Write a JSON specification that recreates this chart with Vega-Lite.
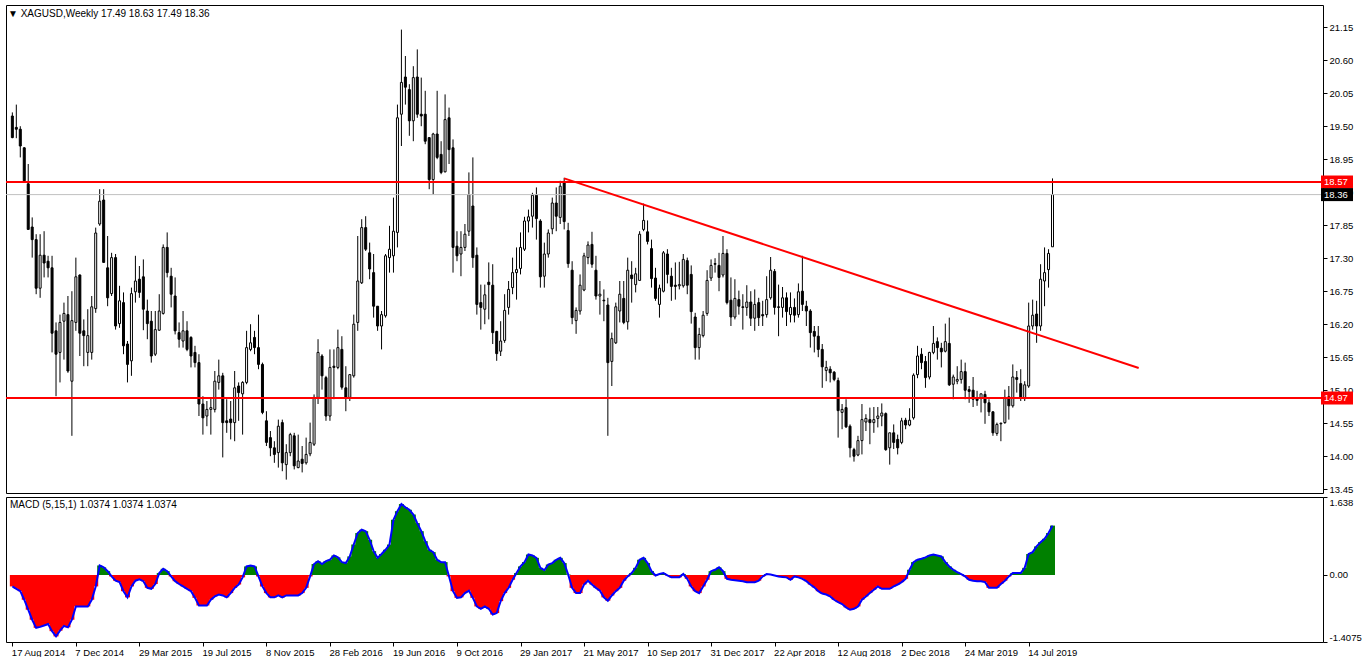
{
"$schema": "https://vega.github.io/schema/vega-lite/v6.json",
"background": "white",
"padding": {"left": 4, "top": 4, "right": 0, "bottom": 0},
"spacing": 4,
"bounds": "flush",
"config": {"view": {"stroke": "#000000", "strokeWidth": 1}, "font": "Liberation Sans", "axis": {"labelOverlap": false}},
"datasets": {
"lines": [{"p": 18.57, "k": "level"}, {"p": 14.97, "k": "level"}, {"p": 18.36, "k": "bid"}],
"trend": [{"d": "2017-04-16", "p": 18.63}, {"d": "2020-01-24", "p": 15.47}],
"bars": [
{"d":"2014-08-17","o":19.67,"h":19.73,"l":19.30,"c":19.31,"m":-0.24},
{"d":"2014-08-24","o":19.48,"h":19.86,"l":19.30,"c":19.45,"m":-0.29},
{"d":"2014-08-31","o":19.45,"h":19.50,"l":18.98,"c":19.17,"m":-0.34},
{"d":"2014-09-07","o":19.14,"h":19.15,"l":18.56,"c":18.59,"m":-0.52},
{"d":"2014-09-14","o":18.54,"h":18.87,"l":17.78,"c":17.78,"m":-0.73},
{"d":"2014-09-21","o":17.82,"h":17.98,"l":17.31,"c":17.61,"m":-0.94},
{"d":"2014-09-28","o":17.61,"h":17.70,"l":16.70,"c":16.80,"m":-1.11},
{"d":"2014-10-05","o":16.80,"h":17.70,"l":16.64,"c":17.35,"m":-1.09},
{"d":"2014-10-12","o":17.35,"h":17.75,"l":16.98,"c":17.22,"m":-1.06},
{"d":"2014-10-19","o":17.25,"h":17.34,"l":16.98,"c":17.14,"m":-1.03},
{"d":"2014-10-26","o":17.14,"h":17.34,"l":15.73,"c":16.05,"m":-1.18},
{"d":"2014-11-02","o":16.09,"h":16.23,"l":15.00,"c":15.70,"m":-1.29},
{"d":"2014-11-09","o":15.73,"h":16.36,"l":15.23,"c":16.23,"m":-1.17},
{"d":"2014-11-16","o":16.25,"h":16.56,"l":15.61,"c":16.38,"m":-1.07},
{"d":"2014-11-23","o":16.36,"h":16.67,"l":15.39,"c":15.42,"m":-1.10},
{"d":"2014-11-30","o":15.25,"h":16.75,"l":14.34,"c":16.26,"m":-0.94},
{"d":"2014-12-07","o":16.23,"h":17.31,"l":16.09,"c":16.99,"m":-0.66},
{"d":"2014-12-14","o":17.02,"h":17.03,"l":15.67,"c":16.05,"m":-0.66},
{"d":"2014-12-21","o":16.09,"h":16.28,"l":15.50,"c":16.01,"m":-0.66},
{"d":"2014-12-28","o":15.73,"h":16.45,"l":15.50,"c":16.01,"m":-0.66},
{"d":"2015-01-04","o":15.73,"h":16.67,"l":15.61,"c":16.49,"m":-0.52},
{"d":"2015-01-11","o":16.46,"h":17.81,"l":16.39,"c":17.72,"m":-0.24},
{"d":"2015-01-18","o":17.87,"h":18.45,"l":17.84,"c":18.25,"m":0.20},
{"d":"2015-01-25","o":18.27,"h":18.45,"l":17.23,"c":17.23,"m":0.16},
{"d":"2015-02-01","o":17.14,"h":17.67,"l":16.50,"c":16.64,"m":0.08},
{"d":"2015-02-08","o":16.71,"h":17.39,"l":16.67,"c":17.31,"m":-0.03},
{"d":"2015-02-15","o":17.31,"h":17.37,"l":16.11,"c":16.17,"m":-0.12},
{"d":"2015-02-22","o":16.21,"h":16.84,"l":16.14,"c":16.59,"m":-0.15},
{"d":"2015-03-01","o":16.56,"h":16.73,"l":15.70,"c":15.84,"m":-0.34},
{"d":"2015-03-08","o":15.87,"h":15.92,"l":15.23,"c":15.53,"m":-0.47},
{"d":"2015-03-15","o":15.59,"h":16.81,"l":15.34,"c":16.71,"m":-0.24},
{"d":"2015-03-22","o":16.74,"h":17.34,"l":16.56,"c":16.92,"m":-0.12},
{"d":"2015-03-29","o":16.95,"h":17.17,"l":16.64,"c":16.73,"m":-0.09},
{"d":"2015-04-05","o":16.99,"h":17.28,"l":16.10,"c":16.45,"m":-0.13},
{"d":"2015-04-12","o":16.42,"h":16.61,"l":15.95,"c":16.21,"m":-0.27},
{"d":"2015-04-19","o":16.25,"h":16.42,"l":15.56,"c":15.67,"m":-0.29},
{"d":"2015-04-26","o":15.70,"h":16.42,"l":15.67,"c":16.11,"m":-0.19},
{"d":"2015-05-03","o":16.10,"h":16.70,"l":16.09,"c":16.42,"m":0.04},
{"d":"2015-05-10","o":16.38,"h":17.53,"l":16.36,"c":17.48,"m":0.13},
{"d":"2015-05-17","o":17.48,"h":17.73,"l":16.98,"c":17.06,"m":0.08},
{"d":"2015-05-24","o":17.00,"h":17.14,"l":16.48,"c":16.70,"m":-0.03},
{"d":"2015-05-31","o":16.67,"h":16.98,"l":16.03,"c":16.09,"m":-0.13},
{"d":"2015-06-07","o":16.06,"h":16.23,"l":15.81,"c":15.95,"m":-0.19},
{"d":"2015-06-14","o":15.92,"h":16.42,"l":15.81,"c":16.09,"m":-0.24},
{"d":"2015-06-21","o":16.09,"h":16.25,"l":15.75,"c":15.78,"m":-0.29},
{"d":"2015-06-28","o":15.98,"h":16.00,"l":15.48,"c":15.67,"m":-0.34},
{"d":"2015-07-05","o":15.73,"h":15.84,"l":15.48,"c":15.56,"m":-0.48},
{"d":"2015-07-12","o":15.56,"h":15.70,"l":14.67,"c":14.87,"m":-0.64},
{"d":"2015-07-19","o":14.87,"h":15.00,"l":14.36,"c":14.64,"m":-0.64},
{"d":"2015-07-26","o":14.67,"h":14.92,"l":14.50,"c":14.78,"m":-0.64},
{"d":"2015-08-02","o":14.78,"h":14.98,"l":14.36,"c":14.81,"m":-0.52},
{"d":"2015-08-09","o":14.78,"h":15.42,"l":14.73,"c":15.25,"m":-0.45},
{"d":"2015-08-16","o":15.23,"h":15.61,"l":15.11,"c":15.34,"m":-0.41},
{"d":"2015-08-23","o":15.34,"h":15.39,"l":13.98,"c":14.56,"m":-0.43},
{"d":"2015-08-30","o":14.59,"h":14.95,"l":14.39,"c":14.56,"m":-0.47},
{"d":"2015-09-06","o":14.62,"h":14.92,"l":14.28,"c":14.56,"m":-0.38},
{"d":"2015-09-13","o":14.56,"h":15.42,"l":14.25,"c":15.14,"m":-0.27},
{"d":"2015-09-20","o":15.17,"h":15.23,"l":14.59,"c":15.06,"m":-0.20},
{"d":"2015-09-27","o":15.04,"h":15.25,"l":14.36,"c":15.23,"m":-0.05},
{"d":"2015-10-04","o":15.23,"h":16.09,"l":15.20,"c":15.81,"m":0.18},
{"d":"2015-10-11","o":15.78,"h":16.20,"l":15.75,"c":15.89,"m":0.20},
{"d":"2015-10-18","o":15.98,"h":16.09,"l":15.70,"c":15.81,"m":0.18},
{"d":"2015-10-25","o":15.81,"h":16.36,"l":15.45,"c":15.53,"m":-0.03},
{"d":"2015-11-01","o":15.53,"h":15.56,"l":14.70,"c":14.73,"m":-0.24},
{"d":"2015-11-08","o":14.59,"h":14.75,"l":14.17,"c":14.23,"m":-0.38},
{"d":"2015-11-15","o":14.31,"h":14.42,"l":14.00,"c":14.14,"m":-0.47},
{"d":"2015-11-22","o":14.14,"h":14.25,"l":13.89,"c":14.03,"m":-0.47},
{"d":"2015-11-29","o":14.06,"h":14.61,"l":13.81,"c":14.50,"m":-0.43},
{"d":"2015-12-06","o":14.56,"h":14.61,"l":13.75,"c":13.89,"m":-0.47},
{"d":"2015-12-13","o":13.86,"h":14.20,"l":13.61,"c":14.06,"m":-0.43},
{"d":"2015-12-20","o":14.06,"h":14.39,"l":14.00,"c":14.36,"m":-0.43},
{"d":"2015-12-27","o":14.34,"h":14.39,"l":13.78,"c":13.84,"m":-0.43},
{"d":"2016-01-03","o":13.81,"h":14.36,"l":13.80,"c":13.92,"m":-0.43},
{"d":"2016-01-10","o":13.95,"h":14.17,"l":13.73,"c":13.88,"m":-0.38},
{"d":"2016-01-17","o":13.89,"h":14.31,"l":13.86,"c":14.03,"m":-0.27},
{"d":"2016-01-24","o":14.04,"h":14.56,"l":14.00,"c":14.23,"m":-0.03},
{"d":"2016-01-31","o":14.20,"h":15.03,"l":14.17,"c":14.98,"m":0.23},
{"d":"2016-02-07","o":14.98,"h":15.95,"l":14.87,"c":15.73,"m":0.29},
{"d":"2016-02-14","o":15.67,"h":15.70,"l":15.11,"c":15.34,"m":0.23},
{"d":"2016-02-21","o":15.31,"h":15.34,"l":14.59,"c":14.67,"m":0.29},
{"d":"2016-02-28","o":14.67,"h":15.78,"l":14.59,"c":15.48,"m":0.32},
{"d":"2016-03-06","o":15.50,"h":15.78,"l":14.95,"c":15.48,"m":0.41},
{"d":"2016-03-13","o":15.48,"h":16.11,"l":15.45,"c":15.81,"m":0.37},
{"d":"2016-03-20","o":15.78,"h":16.00,"l":15.11,"c":15.15,"m":0.27},
{"d":"2016-03-27","o":15.14,"h":15.50,"l":14.75,"c":14.98,"m":0.25},
{"d":"2016-04-03","o":14.98,"h":15.36,"l":14.92,"c":15.36,"m":0.39},
{"d":"2016-04-10","o":15.34,"h":16.36,"l":15.31,"c":16.20,"m":0.64},
{"d":"2016-04-17","o":16.23,"h":17.67,"l":16.09,"c":16.92,"m":0.88},
{"d":"2016-04-24","o":16.89,"h":17.95,"l":16.87,"c":17.81,"m":0.95},
{"d":"2016-05-01","o":17.81,"h":18.00,"l":17.42,"c":17.45,"m":0.92},
{"d":"2016-05-08","o":17.39,"h":17.56,"l":16.95,"c":17.12,"m":0.74},
{"d":"2016-05-15","o":17.06,"h":17.37,"l":16.31,"c":16.50,"m":0.50},
{"d":"2016-05-22","o":16.50,"h":16.50,"l":16.09,"c":16.17,"m":0.36},
{"d":"2016-05-29","o":16.17,"h":16.42,"l":15.78,"c":16.36,"m":0.44},
{"d":"2016-06-05","o":16.34,"h":17.37,"l":16.31,"c":17.34,"m":0.53},
{"d":"2016-06-12","o":17.31,"h":17.84,"l":17.06,"c":17.45,"m":0.64},
{"d":"2016-06-19","o":17.34,"h":18.31,"l":17.06,"c":17.75,"m":1.16},
{"d":"2016-06-26","o":17.73,"h":19.86,"l":17.48,"c":19.64,"m":1.34},
{"d":"2016-07-03","o":19.70,"h":21.11,"l":19.17,"c":20.23,"m":1.49},
{"d":"2016-07-10","o":20.32,"h":20.67,"l":19.86,"c":20.15,"m":1.42},
{"d":"2016-07-17","o":20.11,"h":20.20,"l":19.34,"c":19.59,"m":1.37},
{"d":"2016-07-24","o":19.59,"h":20.50,"l":19.25,"c":20.31,"m":1.27},
{"d":"2016-07-31","o":20.32,"h":20.78,"l":19.64,"c":19.70,"m":1.09},
{"d":"2016-08-07","o":19.70,"h":20.31,"l":19.50,"c":19.67,"m":0.92},
{"d":"2016-08-14","o":19.70,"h":20.09,"l":19.20,"c":19.25,"m":0.71},
{"d":"2016-08-21","o":19.31,"h":19.31,"l":18.45,"c":18.61,"m":0.53},
{"d":"2016-08-28","o":18.61,"h":19.39,"l":18.36,"c":19.37,"m":0.48},
{"d":"2016-09-04","o":19.37,"h":20.09,"l":18.95,"c":18.98,"m":0.32},
{"d":"2016-09-11","o":19.03,"h":19.25,"l":18.70,"c":18.73,"m":0.27},
{"d":"2016-09-18","o":18.74,"h":20.03,"l":18.73,"c":19.61,"m":0.27},
{"d":"2016-09-25","o":19.64,"h":19.81,"l":18.87,"c":19.11,"m":-0.03},
{"d":"2016-10-02","o":19.14,"h":19.28,"l":17.06,"c":17.48,"m":-0.34},
{"d":"2016-10-09","o":17.50,"h":17.75,"l":17.25,"c":17.34,"m":-0.48},
{"d":"2016-10-16","o":17.37,"h":17.75,"l":17.00,"c":17.48,"m":-0.47},
{"d":"2016-10-23","o":17.48,"h":17.87,"l":17.42,"c":17.70,"m":-0.38},
{"d":"2016-10-30","o":17.75,"h":18.73,"l":17.67,"c":18.36,"m":-0.33},
{"d":"2016-11-06","o":18.17,"h":18.98,"l":17.14,"c":17.31,"m":-0.48},
{"d":"2016-11-13","o":17.35,"h":17.48,"l":16.36,"c":16.53,"m":-0.66},
{"d":"2016-11-20","o":16.56,"h":16.86,"l":16.11,"c":16.48,"m":-0.71},
{"d":"2016-11-27","o":16.45,"h":16.86,"l":16.20,"c":16.69,"m":-0.66},
{"d":"2016-12-04","o":16.90,"h":17.23,"l":16.28,"c":16.86,"m":-0.71},
{"d":"2016-12-11","o":16.85,"h":17.20,"l":15.87,"c":16.06,"m":-0.83},
{"d":"2016-12-18","o":16.08,"h":16.09,"l":15.59,"c":15.71,"m":-0.80},
{"d":"2016-12-25","o":15.75,"h":16.25,"l":15.67,"c":15.92,"m":-0.55},
{"d":"2017-01-01","o":15.93,"h":16.70,"l":15.89,"c":16.43,"m":-0.38},
{"d":"2017-01-08","o":16.48,"h":16.92,"l":16.36,"c":16.78,"m":-0.27},
{"d":"2017-01-15","o":16.81,"h":17.31,"l":16.70,"c":17.06,"m":-0.10},
{"d":"2017-01-22","o":17.06,"h":17.48,"l":16.61,"c":17.11,"m":0.04},
{"d":"2017-01-29","o":17.13,"h":17.73,"l":17.03,"c":17.48,"m":0.18},
{"d":"2017-02-05","o":17.45,"h":17.99,"l":17.42,"c":17.92,"m":0.27},
{"d":"2017-02-12","o":17.92,"h":18.11,"l":17.73,"c":17.99,"m":0.43},
{"d":"2017-02-19","o":18.00,"h":18.39,"l":17.81,"c":18.35,"m":0.41},
{"d":"2017-02-26","o":18.35,"h":18.48,"l":17.61,"c":17.96,"m":0.36},
{"d":"2017-03-05","o":17.92,"h":17.95,"l":16.81,"c":16.99,"m":0.15},
{"d":"2017-03-12","o":17.00,"h":17.56,"l":16.81,"c":17.37,"m":0.10},
{"d":"2017-03-19","o":17.37,"h":17.78,"l":17.31,"c":17.72,"m":0.22},
{"d":"2017-03-26","o":17.79,"h":18.31,"l":17.70,"c":18.22,"m":0.25},
{"d":"2017-04-02","o":18.22,"h":18.48,"l":17.75,"c":18.00,"m":0.32},
{"d":"2017-04-09","o":17.98,"h":18.59,"l":17.87,"c":18.50,"m":0.36},
{"d":"2017-04-16","o":18.56,"h":18.64,"l":17.78,"c":17.91,"m":0.25},
{"d":"2017-04-23","o":17.76,"h":17.89,"l":17.14,"c":17.21,"m":0.01},
{"d":"2017-04-30","o":17.10,"h":17.25,"l":16.20,"c":16.31,"m":-0.27},
{"d":"2017-05-07","o":16.26,"h":16.48,"l":16.04,"c":16.43,"m":-0.38},
{"d":"2017-05-14","o":16.42,"h":17.03,"l":16.36,"c":16.85,"m":-0.38},
{"d":"2017-05-21","o":16.77,"h":17.39,"l":16.75,"c":17.34,"m":-0.20},
{"d":"2017-05-28","o":17.31,"h":17.58,"l":17.20,"c":17.52,"m":-0.12},
{"d":"2017-06-04","o":17.53,"h":17.74,"l":17.14,"c":17.20,"m":-0.20},
{"d":"2017-06-11","o":17.10,"h":17.34,"l":16.61,"c":16.67,"m":-0.27},
{"d":"2017-06-18","o":16.67,"h":16.92,"l":16.36,"c":16.70,"m":-0.33},
{"d":"2017-06-25","o":16.60,"h":16.78,"l":16.25,"c":16.59,"m":-0.47},
{"d":"2017-07-02","o":16.52,"h":16.64,"l":14.34,"c":15.56,"m":-0.54},
{"d":"2017-07-09","o":15.58,"h":16.06,"l":15.17,"c":15.96,"m":-0.43},
{"d":"2017-07-16","o":15.89,"h":16.56,"l":15.87,"c":16.49,"m":-0.34},
{"d":"2017-07-23","o":16.42,"h":16.92,"l":16.23,"c":16.70,"m":-0.27},
{"d":"2017-07-30","o":16.63,"h":16.92,"l":16.20,"c":16.23,"m":-0.12},
{"d":"2017-08-06","o":16.24,"h":17.31,"l":16.11,"c":17.10,"m":-0.03},
{"d":"2017-08-13","o":17.02,"h":17.25,"l":16.56,"c":16.96,"m":0.04},
{"d":"2017-08-20","o":16.86,"h":17.14,"l":16.73,"c":17.04,"m":0.15},
{"d":"2017-08-27","o":16.93,"h":17.75,"l":16.92,"c":17.70,"m":0.32},
{"d":"2017-09-03","o":17.78,"h":18.21,"l":17.75,"c":17.93,"m":0.36},
{"d":"2017-09-10","o":17.74,"h":17.93,"l":17.53,"c":17.58,"m":0.25},
{"d":"2017-09-17","o":17.46,"h":17.61,"l":16.81,"c":16.96,"m":0.08},
{"d":"2017-09-24","o":16.97,"h":17.14,"l":16.59,"c":16.63,"m":-0.01},
{"d":"2017-10-01","o":16.53,"h":16.86,"l":16.31,"c":16.80,"m":0.02},
{"d":"2017-10-08","o":16.75,"h":17.42,"l":16.73,"c":17.39,"m":0.04},
{"d":"2017-10-15","o":17.37,"h":17.45,"l":16.88,"c":17.03,"m":-0.01},
{"d":"2017-10-22","o":17.00,"h":17.14,"l":16.59,"c":16.83,"m":-0.05},
{"d":"2017-10-29","o":16.85,"h":17.23,"l":16.61,"c":16.83,"m":-0.05},
{"d":"2017-11-05","o":16.84,"h":17.24,"l":16.78,"c":16.86,"m":-0.05},
{"d":"2017-11-12","o":16.84,"h":17.37,"l":16.81,"c":17.28,"m":0.02},
{"d":"2017-11-19","o":17.26,"h":17.31,"l":16.70,"c":16.85,"m":-0.08},
{"d":"2017-11-26","o":17.03,"h":17.18,"l":16.21,"c":16.41,"m":-0.24},
{"d":"2017-12-03","o":16.32,"h":16.39,"l":15.61,"c":15.81,"m":-0.34},
{"d":"2017-12-10","o":15.81,"h":16.14,"l":15.61,"c":16.03,"m":-0.38},
{"d":"2017-12-17","o":16.01,"h":16.42,"l":15.98,"c":16.35,"m":-0.24},
{"d":"2017-12-24","o":16.38,"h":17.10,"l":16.34,"c":16.93,"m":-0.10},
{"d":"2017-12-31","o":16.97,"h":17.28,"l":16.92,"c":17.18,"m":0.08},
{"d":"2018-01-07","o":17.21,"h":17.30,"l":17.06,"c":17.20,"m":0.11},
{"d":"2018-01-14","o":17.18,"h":17.39,"l":16.75,"c":16.98,"m":0.16},
{"d":"2018-01-21","o":17.02,"h":17.67,"l":16.98,"c":17.38,"m":0.08},
{"d":"2018-01-28","o":17.38,"h":17.45,"l":16.53,"c":16.56,"m":-0.08},
{"d":"2018-02-04","o":16.60,"h":16.98,"l":16.17,"c":16.32,"m":-0.10},
{"d":"2018-02-11","o":16.32,"h":16.95,"l":16.28,"c":16.63,"m":-0.11},
{"d":"2018-02-18","o":16.61,"h":16.76,"l":16.36,"c":16.50,"m":-0.12},
{"d":"2018-02-25","o":16.49,"h":16.70,"l":16.11,"c":16.48,"m":-0.13},
{"d":"2018-03-04","o":16.48,"h":16.85,"l":16.34,"c":16.57,"m":-0.15},
{"d":"2018-03-11","o":16.57,"h":16.75,"l":16.17,"c":16.30,"m":-0.15},
{"d":"2018-03-18","o":16.30,"h":16.78,"l":16.09,"c":16.53,"m":-0.15},
{"d":"2018-03-25","o":16.56,"h":16.64,"l":16.17,"c":16.31,"m":-0.12},
{"d":"2018-04-01","o":16.36,"h":16.59,"l":16.17,"c":16.34,"m":-0.03},
{"d":"2018-04-08","o":16.36,"h":17.00,"l":16.31,"c":16.61,"m":0.02},
{"d":"2018-04-15","o":16.64,"h":17.32,"l":16.61,"c":17.10,"m":0.01},
{"d":"2018-04-22","o":17.08,"h":17.12,"l":16.36,"c":16.48,"m":-0.01},
{"d":"2018-04-29","o":16.49,"h":16.86,"l":16.00,"c":16.48,"m":-0.03},
{"d":"2018-05-06","o":16.48,"h":16.82,"l":16.31,"c":16.64,"m":-0.04},
{"d":"2018-05-13","o":16.64,"h":16.73,"l":16.17,"c":16.41,"m":-0.05},
{"d":"2018-05-20","o":16.36,"h":16.73,"l":16.23,"c":16.48,"m":-0.10},
{"d":"2018-05-27","o":16.48,"h":16.63,"l":16.23,"c":16.35,"m":-0.03},
{"d":"2018-06-03","o":16.36,"h":16.88,"l":16.31,"c":16.74,"m":-0.05},
{"d":"2018-06-10","o":16.75,"h":17.34,"l":16.42,"c":16.53,"m":-0.08},
{"d":"2018-06-17","o":16.50,"h":16.59,"l":16.17,"c":16.42,"m":-0.13},
{"d":"2018-06-24","o":16.42,"h":16.45,"l":15.81,"c":16.06,"m":-0.20},
{"d":"2018-07-01","o":16.08,"h":16.17,"l":15.73,"c":16.00,"m":-0.26},
{"d":"2018-07-08","o":16.00,"h":16.17,"l":15.65,"c":15.78,"m":-0.34},
{"d":"2018-07-15","o":15.78,"h":15.87,"l":15.14,"c":15.49,"m":-0.39},
{"d":"2018-07-22","o":15.43,"h":15.59,"l":15.25,"c":15.48,"m":-0.41},
{"d":"2018-07-29","o":15.45,"h":15.50,"l":15.23,"c":15.39,"m":-0.45},
{"d":"2018-08-05","o":15.40,"h":15.42,"l":15.25,"c":15.28,"m":-0.52},
{"d":"2018-08-12","o":15.26,"h":15.31,"l":14.31,"c":14.76,"m":-0.57},
{"d":"2018-08-19","o":14.73,"h":14.87,"l":14.45,"c":14.78,"m":-0.61},
{"d":"2018-08-26","o":14.81,"h":14.95,"l":14.47,"c":14.49,"m":-0.68},
{"d":"2018-09-02","o":14.50,"h":14.53,"l":13.98,"c":14.14,"m":-0.73},
{"d":"2018-09-09","o":14.11,"h":14.14,"l":13.91,"c":14.00,"m":-0.71},
{"d":"2018-09-16","o":14.02,"h":14.34,"l":14.00,"c":14.26,"m":-0.66},
{"d":"2018-09-23","o":14.26,"h":14.87,"l":14.03,"c":14.61,"m":-0.52},
{"d":"2018-09-30","o":14.57,"h":14.70,"l":14.42,"c":14.63,"m":-0.45},
{"d":"2018-10-07","o":14.61,"h":14.81,"l":14.20,"c":14.56,"m":-0.38},
{"d":"2018-10-14","o":14.56,"h":14.82,"l":14.39,"c":14.61,"m":-0.31},
{"d":"2018-10-21","o":14.63,"h":14.82,"l":14.48,"c":14.67,"m":-0.24},
{"d":"2018-10-28","o":14.67,"h":14.88,"l":14.50,"c":14.72,"m":-0.29},
{"d":"2018-11-04","o":14.71,"h":14.73,"l":14.09,"c":14.11,"m":-0.29},
{"d":"2018-11-11","o":14.14,"h":14.39,"l":13.86,"c":14.39,"m":-0.29},
{"d":"2018-11-18","o":14.39,"h":14.53,"l":14.12,"c":14.23,"m":-0.24},
{"d":"2018-11-25","o":14.28,"h":14.36,"l":14.03,"c":14.14,"m":-0.20},
{"d":"2018-12-02","o":14.23,"h":14.64,"l":14.20,"c":14.59,"m":-0.15},
{"d":"2018-12-09","o":14.60,"h":14.64,"l":14.45,"c":14.52,"m":-0.08},
{"d":"2018-12-16","o":14.52,"h":14.80,"l":14.50,"c":14.60,"m":0.11},
{"d":"2018-12-23","o":14.64,"h":15.38,"l":14.61,"c":15.35,"m":0.27},
{"d":"2018-12-30","o":15.36,"h":15.84,"l":15.30,"c":15.67,"m":0.32},
{"d":"2019-01-06","o":15.70,"h":15.80,"l":15.45,"c":15.56,"m":0.34},
{"d":"2019-01-13","o":15.58,"h":15.67,"l":15.14,"c":15.31,"m":0.37},
{"d":"2019-01-20","o":15.32,"h":15.74,"l":15.28,"c":15.73,"m":0.41},
{"d":"2019-01-27","o":15.73,"h":16.17,"l":15.70,"c":15.88,"m":0.43},
{"d":"2019-02-03","o":15.91,"h":15.98,"l":15.61,"c":15.81,"m":0.41},
{"d":"2019-02-10","o":15.80,"h":15.89,"l":15.48,"c":15.74,"m":0.39},
{"d":"2019-02-17","o":15.75,"h":16.21,"l":15.73,"c":15.91,"m":0.27},
{"d":"2019-02-24","o":15.88,"h":16.31,"l":15.17,"c":15.19,"m":0.18},
{"d":"2019-03-03","o":15.20,"h":15.36,"l":14.95,"c":15.32,"m":0.11},
{"d":"2019-03-10","o":15.25,"h":15.50,"l":15.20,"c":15.28,"m":0.06},
{"d":"2019-03-17","o":15.28,"h":15.61,"l":15.21,"c":15.41,"m":0.02},
{"d":"2019-03-24","o":15.41,"h":15.56,"l":14.95,"c":15.10,"m":-0.03},
{"d":"2019-03-31","o":15.11,"h":15.17,"l":14.89,"c":15.08,"m":-0.10},
{"d":"2019-04-07","o":15.10,"h":15.32,"l":14.82,"c":14.95,"m":-0.12},
{"d":"2019-04-14","o":14.97,"h":15.09,"l":14.84,"c":14.93,"m":-0.13},
{"d":"2019-04-21","o":14.96,"h":15.04,"l":14.73,"c":15.04,"m":-0.13},
{"d":"2019-04-28","o":15.03,"h":15.09,"l":14.54,"c":14.89,"m":-0.15},
{"d":"2019-05-05","o":14.89,"h":14.95,"l":14.67,"c":14.74,"m":-0.27},
{"d":"2019-05-12","o":14.74,"h":14.75,"l":14.34,"c":14.39,"m":-0.27},
{"d":"2019-05-19","o":14.38,"h":14.56,"l":14.34,"c":14.53,"m":-0.27},
{"d":"2019-05-26","o":14.54,"h":14.56,"l":14.25,"c":14.55,"m":-0.19},
{"d":"2019-06-02","o":14.56,"h":15.11,"l":14.54,"c":14.98,"m":-0.12},
{"d":"2019-06-09","o":14.99,"h":15.17,"l":14.61,"c":14.84,"m":-0.03},
{"d":"2019-06-16","o":14.84,"h":15.53,"l":14.81,"c":15.32,"m":0.04},
{"d":"2019-06-23","o":15.31,"h":15.42,"l":15.06,"c":15.28,"m":0.04},
{"d":"2019-06-30","o":15.21,"h":15.45,"l":14.92,"c":14.98,"m":0.04},
{"d":"2019-07-07","o":14.96,"h":15.25,"l":14.92,"c":15.19,"m":0.15},
{"d":"2019-07-14","o":15.17,"h":16.56,"l":15.14,"c":16.17,"m":0.44},
{"d":"2019-07-21","o":16.17,"h":16.61,"l":16.11,"c":16.35,"m":0.48},
{"d":"2019-07-28","o":16.37,"h":16.59,"l":15.89,"c":16.17,"m":0.60},
{"d":"2019-08-04","o":16.17,"h":17.20,"l":16.09,"c":16.95,"m":0.69},
{"d":"2019-08-11","o":16.92,"h":17.48,"l":16.50,"c":17.06,"m":0.76},
{"d":"2019-08-18","o":17.11,"h":17.45,"l":16.81,"c":17.38,"m":0.88},
{"d":"2019-08-25","o":17.49,"h":18.63,"l":17.49,"c":18.36,"m":1.0374}
]
},
"vconcat": [
{
"width": 1317, "height": 488,
"layer": [
{
"data": {"name": "bars"},
"mark": {"type": "rule", "color": "#000000", "strokeWidth": 1},
"encoding": {
"x": {"field": "d", "type": "temporal", "scale": {"type": "utc", "domain": [{"year": 2014, "month": 8, "date": 14, "hours": 15, "utc": true}, {"year": 2020, "month": 12, "date": 5, "hours": 3, "utc": true}]}, "axis": null},
"y": {"field": "l", "type": "quantitative", "scale": {"domain": [13.387, 21.52], "zero": false, "nice": false},
"axis": {"orient": "right", "title": null, "values": [13.45, 14.0, 14.55, 15.1, 15.65, 16.2, 16.75, 17.3, 17.85, 18.4, 18.95, 19.5, 20.05, 20.6, 21.15], "tickCount": 30, "format": ".2f", "domain": false, "grid": false, "ticks": true, "tickSize": 4, "tickColor": "#000000", "labelColor": "#000000", "labelFont": "Liberation Sans", "labelFontSize": 9.5, "labelPadding": 2, "labelOverlap": false, "labelFlush": false, "zindex": 0}},
"y2": {"field": "h"}
}
},
{
"data": {"name": "bars"},
"mark": {"type": "bar", "width": 2, "stroke": "#000000", "strokeWidth": 1},
"encoding": {
"x": {"field": "d", "type": "temporal", "scale": {"type": "utc", "domain": [{"year": 2014, "month": 8, "date": 14, "hours": 15, "utc": true}, {"year": 2020, "month": 12, "date": 5, "hours": 3, "utc": true}]}, "axis": null},
"y": {"field": "o", "type": "quantitative", "scale": {"domain": [13.387, 21.52], "zero": false, "nice": false}, "axis": {"title": null, "tickCount": 30}},
"y2": {"field": "c"},
"fill": {"condition": {"test": "datum.c >= datum.o", "value": "#ffffff"}, "value": "#000000"}
}
},
{
"data": {"name": "lines"},
"mark": {"type": "rule"},
"encoding": {
"y": {"field": "p", "type": "quantitative", "scale": {"domain": [13.387, 21.52], "zero": false, "nice": false}, "axis": {"title": null, "tickCount": 30}},
"stroke": {"field": "k", "type": "nominal", "scale": {"domain": ["level", "bid"], "range": ["#ff0000", "#c0c0c0"]}, "legend": null},
"strokeWidth": {"field": "k", "type": "nominal", "scale": {"domain": ["level", "bid"], "range": [2, 1]}, "legend": null}
}
},
{
"data": {"name": "trend"},
"mark": {"type": "line", "color": "#ff0000", "strokeWidth": 2},
"encoding": {
"x": {"field": "d", "type": "temporal", "scale": {"type": "utc", "domain": [{"year": 2014, "month": 8, "date": 14, "hours": 15, "utc": true}, {"year": 2020, "month": 12, "date": 5, "hours": 3, "utc": true}]}, "axis": null},
"y": {"field": "p", "type": "quantitative", "scale": {"domain": [13.387, 21.52], "zero": false, "nice": false}, "axis": {"title": null, "tickCount": 30}}
}
},
{
"data": {"name": "lines"},
"mark": {"type": "point", "shape": "M0.6,-1.3L7.0,-1.3L7.0,1.3L0.6,1.3Z", "size": 100, "filled": true, "opacity": 1, "strokeWidth": 0, "clip": false},
"encoding": {
"x": {"datum": {"year": 2020, "month": 12, "date": 5, "hours": 3, "utc": true}, "type": "temporal", "scale": {"type": "utc", "domain": [{"year": 2014, "month": 8, "date": 14, "hours": 15, "utc": true}, {"year": 2020, "month": 12, "date": 5, "hours": 3, "utc": true}]}, "axis": null},
"y": {"field": "p", "type": "quantitative", "scale": {"domain": [13.387, 21.52], "zero": false, "nice": false}, "axis": {"title": null, "tickCount": 30}},
"fill": {"field": "k", "type": "nominal", "scale": {"domain": ["level", "bid"], "range": ["#ff0000", "#000000"]}, "legend": null}
}
},
{
"data": {"name": "lines"},
"mark": {"type": "text", "align": "left", "baseline": "middle", "dx": 6, "color": "#ffffff", "font": "Liberation Sans", "fontSize": 9.5, "clip": false},
"encoding": {
"x": {"datum": {"year": 2020, "month": 12, "date": 5, "hours": 3, "utc": true}, "type": "temporal", "scale": {"type": "utc", "domain": [{"year": 2014, "month": 8, "date": 14, "hours": 15, "utc": true}, {"year": 2020, "month": 12, "date": 5, "hours": 3, "utc": true}]}, "axis": null},
"y": {"field": "p", "type": "quantitative", "scale": {"domain": [13.387, 21.52], "zero": false, "nice": false}, "axis": {"title": null, "tickCount": 30}},
"text": {"field": "p", "type": "quantitative", "format": ".2f"}
}
},
{
"data": {"values": [{"t": "▼  XAGUSD,Weekly  17.49 18.63 17.49 18.36"}]},
"mark": {"type": "text", "align": "left", "baseline": "top", "dx": -3, "dy": 4, "color": "#000000", "font": "Liberation Sans", "fontSize": 10},
"encoding": {
"x": {"datum": {"year": 2014, "month": 8, "date": 14, "hours": 15, "utc": true}, "type": "temporal", "scale": {"type": "utc", "domain": [{"year": 2014, "month": 8, "date": 14, "hours": 15, "utc": true}, {"year": 2020, "month": 12, "date": 5, "hours": 3, "utc": true}]}, "axis": null},
"y": {"datum": 21.52, "type": "quantitative", "scale": {"domain": [13.387, 21.52], "zero": false, "nice": false}, "axis": {"title": null, "tickCount": 30}},
"text": {"field": "t", "type": "nominal"}
}
}
]
},
{
"width": 1317, "height": 145,
"layer": [
{
"data": {"name": "bars"},
"mark": {"type": "bar", "width": 5},
"encoding": {
"x": {"field": "d", "type": "temporal", "scale": {"type": "utc", "domain": [{"year": 2014, "month": 8, "date": 14, "hours": 15, "utc": true}, {"year": 2020, "month": 12, "date": 5, "hours": 3, "utc": true}]},
"axis": {"title": null, "orient": "bottom", "format": "%-d %b %Y", "tickCount": 40, "values": [
{"year": 2014, "month": 8, "date": 17, "utc": true}, {"year": 2014, "month": 12, "date": 7, "utc": true}, {"year": 2015, "month": 3, "date": 29, "utc": true}, {"year": 2015, "month": 7, "date": 19, "utc": true}, {"year": 2015, "month": 11, "date": 8, "utc": true}, {"year": 2016, "month": 2, "date": 28, "utc": true}, {"year": 2016, "month": 6, "date": 19, "utc": true}, {"year": 2016, "month": 10, "date": 9, "utc": true}, {"year": 2017, "month": 1, "date": 29, "utc": true}, {"year": 2017, "month": 5, "date": 21, "utc": true}, {"year": 2017, "month": 9, "date": 10, "utc": true}, {"year": 2017, "month": 12, "date": 31, "utc": true}, {"year": 2018, "month": 4, "date": 22, "utc": true}, {"year": 2018, "month": 8, "date": 12, "utc": true}, {"year": 2018, "month": 12, "date": 2, "utc": true}, {"year": 2019, "month": 3, "date": 24, "utc": true}, {"year": 2019, "month": 7, "date": 14, "utc": true}],
"domain": false, "grid": false, "tickSize": 4, "tickColor": "#000000", "labelColor": "#000000", "labelFont": "Liberation Sans", "labelFontSize": 9.5, "labelAlign": "left", "labelOffset": -1, "labelPadding": 1, "labelOverlap": false, "labelFlush": false, "labelBaseline": "top"}},
"y": {"field": "m", "type": "quantitative", "scale": {"domain": [-1.4075, 1.638], "zero": false, "nice": false},
"axis": {"orient": "right", "title": null, "values": [1.638, 0, -1.4075], "labelExpr": "datum.value == 0 ? '0.00' : '' + datum.value", "domain": false, "grid": false, "tickSize": 4, "tickColor": "#000000", "labelColor": "#000000", "labelFont": "Liberation Sans", "labelFontSize": 9.5, "labelPadding": 2, "labelFlush": true, "labelOverlap": false}},
"y2": {"datum": 0},
"color": {"condition": {"test": "datum.m >= 0", "value": "#008000"}, "value": "#ff0000"}
}
},
{
"data": {"name": "bars"},
"mark": {"type": "line", "color": "#0000ff", "strokeWidth": 2},
"encoding": {
"x": {"field": "d", "type": "temporal", "scale": {"type": "utc", "domain": [{"year": 2014, "month": 8, "date": 14, "hours": 15, "utc": true}, {"year": 2020, "month": 12, "date": 5, "hours": 3, "utc": true}]}},
"y": {"field": "m", "type": "quantitative", "scale": {"domain": [-1.4075, 1.638], "zero": false, "nice": false}}
}
},
{
"data": {"values": [{"t": "MACD (5,15,1) 1.0374 1.0374 1.0374"}]},
"mark": {"type": "text", "align": "left", "baseline": "top", "dx": -1, "dy": 3, "color": "#000000", "font": "Liberation Sans", "fontSize": 10},
"encoding": {
"x": {"datum": {"year": 2014, "month": 8, "date": 14, "hours": 15, "utc": true}, "type": "temporal", "scale": {"type": "utc", "domain": [{"year": 2014, "month": 8, "date": 14, "hours": 15, "utc": true}, {"year": 2020, "month": 12, "date": 5, "hours": 3, "utc": true}]}},
"y": {"datum": 1.638, "type": "quantitative", "scale": {"domain": [-1.4075, 1.638], "zero": false, "nice": false}},
"text": {"field": "t", "type": "nominal"}
}
}
]
}
]
}
